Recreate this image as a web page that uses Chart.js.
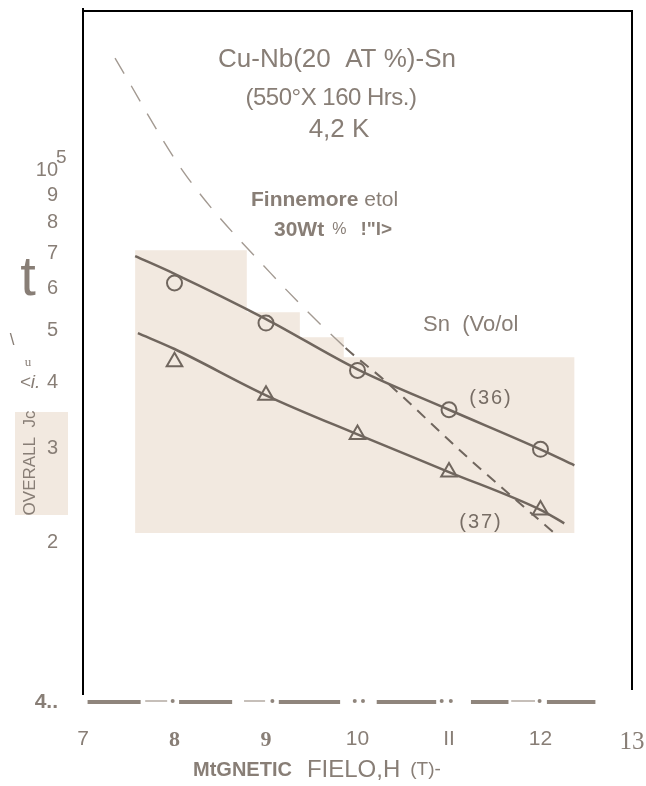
<!DOCTYPE html>
<html>
<head>
<meta charset="utf-8">
<script src="https://cdn.jsdelivr.net/npm/chart.js@4.4.1/dist/chart.umd.min.js"></script>
<style>
  body { margin: 0; background: #fff; }
  canvas { display: block; }
</style>
</head>
<body>
<canvas id="myChart" width="646" height="786"></canvas>
<script>
// field H (T) of the measured points
const fieldT = [8, 9, 10, 11, 12];
// overall Jc (A/cm2)
const jc36 = [61500, 51700, 42100, 35500, 29900];
const jc37 = [43700, 37800, 31900, 27100, 23000];

// hand drawn curves through the points
const curve36X = [7.57, 8, 9, 10, 11, 12, 12.37];
const curve36Y = [69100, 64000, 52600, 42300, 35500, 29900, 27900];
const curve37X = [7.6, 8, 9, 10, 11, 12, 12.26];
const curve37Y = [49500, 46200, 37800, 31900, 27100, 23000, 21700];

// Finnemore et al, 30 wt % Sn (dashed)
const finnX = [7.35, 8.1, 9.05, 9.87, 10.29, 11.24, 12.15];
const finnY = [163000, 99500, 64200, 46400, 40400, 28500, 20800];

// tick labels as printed (scan text)
const xTicks = [7, 8, 9, 10, 11, 12, 13];
const xLabels = ['7', '8', '9', '10', 'II', '12', '13'];
const yTicks = [100000, 90000, 80000, 70000, 60000, 50000, 40000, 30000, 20000, 10000];
const yLabels = ['10', '9', '8', '7', '6', '5', '4', '3', '2', '4..'];

const GREY = '#887e76';
const LINE = '#70665e';
const PAPER = '#f2e9e0';
const SANS = '"Liberation Sans", Arial, sans-serif';
const SERIF = '"Liberation Serif", serif';

const pts = (xs, ys) => xs.map((x, i) => ({ x: x, y: ys[i] }));

// draws a row of text pieces with different fonts
let runs = (ctx, x, y, parts, align) => {
  let w = 0;
  parts.forEach(p => {
    ctx.font = p.f; ctx.letterSpacing = p.ls || '0px';
    w += ctx.measureText(p.t).width + (p.gap || 0);
  });
  let cx = align === 'left' ? x : x - w / 2;
  parts.forEach(p => {
    ctx.font = p.f;
    ctx.letterSpacing = p.ls || '0px';
    ctx.fillStyle = p.c || GREY;
    ctx.textAlign = 'left';
    ctx.textBaseline = 'middle';
    ctx.fillText(p.t, cx, y);
    cx += ctx.measureText(p.t).width + (p.gap || 0);
  });
  ctx.letterSpacing = '0px';
};

const paperPlugin = {
  id: 'paper',
  beforeDraw(chart) {
    const { ctx, scales: { x, y } } = chart;
    // scanned patch behind the curves (stepped top edge)
    const poly = [[7.57, 70900], [8.79, 70900], [8.79, 54200], [9.37, 54200], [9.37, 48600],
      [9.85, 48600], [9.85, 44600], [12.37, 44600], [12.37, 20800], [7.57, 20800]];
    ctx.save();
    ctx.fillStyle = PAPER;
    ctx.beginPath();
    poly.forEach((p, i) => {
      const px = x.getPixelForValue(p[0]), py = y.getPixelForValue(p[1]);
      i ? ctx.lineTo(px, py) : ctx.moveTo(px, py);
    });
    ctx.closePath();
    ctx.fill();
    // patch behind the axis title
    ctx.fillRect(15, 412, 53, 103);
    ctx.restore();
  },
  afterDraw(chart) {
    const { ctx, chartArea: a, scales: { x, y } } = chart;
    ctx.save();
    // frame: left, top, right
    ctx.strokeStyle = '#000';
    ctx.lineWidth = 2;
    ctx.beginPath();
    ctx.moveTo(a.left, a.bottom - 7);
    ctx.lineTo(a.left, a.top - 3);
    ctx.moveTo(a.left - 1, a.top);
    ctx.lineTo(a.right, a.top);
    ctx.lineTo(a.right, a.bottom - 12);
    ctx.stroke();

    // broken base line of the scan
    const yb = a.bottom;
    const bars = [[7.05, 7.63], [8.05, 8.63], [9.14, 9.81], [10.21, 10.86], [11.24, 11.65], [12.07, 12.6]];
    const thin = [[7.68, 7.92], [8.76, 8.99], [11.68, 11.94]];
    const dots = [7.98, 9.07, 9.97, 10.06, 10.92, 11.02, 11.99];
    ctx.strokeStyle = '#8f857c';
    ctx.lineWidth = 4;
    bars.forEach(b => { ctx.beginPath(); ctx.moveTo(x.getPixelForValue(b[0]), yb); ctx.lineTo(x.getPixelForValue(b[1]), yb); ctx.stroke(); });
    ctx.strokeStyle = '#b3aaa2';
    ctx.lineWidth = 1.5;
    thin.forEach(b => { ctx.beginPath(); ctx.moveTo(x.getPixelForValue(b[0]), yb - 1); ctx.lineTo(x.getPixelForValue(b[1]), yb - 1); ctx.stroke(); });
    ctx.fillStyle = '#8f857c';
    dots.forEach(d => { ctx.beginPath(); ctx.arc(x.getPixelForValue(d), yb - 1, 2, 0, Math.PI * 2); ctx.fill(); });

    // exponent of the 10^5 label
    runs(ctx, 56, y.getPixelForValue(100000) - 13, [{ t: '5', f: '19px ' + SANS }], 'left');

    // y title, rotated
    ctx.save();
    ctx.translate(30, 463);
    ctx.rotate(-Math.PI / 2);
    runs(ctx, 0, 0, [{ t: 'OVERALL  Jc', f: '17px ' + SANS }]);
    ctx.restore();

    runs(ctx, 337, 60, [{ t: 'Cu-Nb(20  AT %)-Sn', f: '26px ' + SANS }]);
    runs(ctx, 331, 98, [{ t: '(550\u00b0X 160 Hrs.)', f: '24px ' + SANS, ls: '-0.5px' }]);
    runs(ctx, 339, 130, [{ t: '4,2 K', f: '26px ' + SANS }]);
    runs(ctx, 251, 200, [{ t: 'Finnemore', f: 'bold 21px ' + SANS, gap: 6 }, { t: 'etol', f: '21px ' + SANS }], 'left');
    runs(ctx, 274, 230, [{ t: '30Wt', f: 'bold 21px ' + SANS, gap: 8 }, { t: '%', f: '16px ' + SANS, gap: 14 },
      { t: '!"l>', f: 'bold 19px ' + SANS }], 'left');
    runs(ctx, 423, 325, [{ t: 'Sn  (Vo/ol', f: '22px ' + SANS }], 'left');
    runs(ctx, 491, 398, [{ t: '(36)', f: '20px ' + SANS, c: '#776d65', ls: '2px' }]);
    runs(ctx, 481, 522, [{ t: '(37)', f: '20px ' + SANS, c: '#776d65', ls: '2px' }]);

    // stray marks left of the axis
    runs(ctx, 28, 280, [{ t: 't', f: '56px ' + SANS }]);
    runs(ctx, 12, 340, [{ t: '\\', f: '17px ' + SANS }]);
    runs(ctx, 28, 363, [{ t: 'u', f: '13px ' + SERIF }]);
    runs(ctx, 30, 383, [{ t: '<i.', f: 'italic 19px ' + SANS }]);

    // x title
    runs(ctx, 193, 770, [{ t: 'MtGNETIC', f: 'bold 20px ' + SANS, gap: 15 }, { t: 'FIELO,H', f: '24px ' + SANS, gap: 10 },
      { t: '(T)-', f: '19px ' + SANS }], 'left');
    ctx.restore();
  }
};

const ctx = document.getElementById('myChart');

const config = {
  type: 'scatter',
  data: {
    datasets: [
      {
        type: 'line', label: 'curve 36', data: pts(curve36X, curve36Y),
        borderColor: LINE, borderWidth: 2.5, pointRadius: 0, cubicInterpolationMode: 'monotone', fill: false
      },
      {
        type: 'line', label: 'curve 37', data: pts(curve37X, curve37Y),
        borderColor: LINE, borderWidth: 2.5, pointRadius: 0, cubicInterpolationMode: 'monotone', fill: false
      },
      {
        type: 'line', label: 'Finnemore', data: pts(finnX, finnY),
        borderColor: LINE, borderWidth: 2, borderDash: [11, 8], pointRadius: 0,
        cubicInterpolationMode: 'monotone', fill: false,
        segment: {
          // upper part on white paper is faint and broken
          borderColor: c => c.p0.parsed.x < 9.8 ? '#a39a92' : LINE,
          borderWidth: c => c.p0.parsed.x < 9.8 ? 1.4 : 2,
          borderDash: c => c.p0.parsed.x < 9.8 ? [18, 14] : [11, 8]
        }
      },
      {
        label: '(36)', data: pts(fieldT, jc36),
        pointStyle: 'circle', pointRadius: 7.5, borderWidth: 2, borderColor: LINE, backgroundColor: PAPER
      },
      {
        label: '(37)', data: pts(fieldT, jc37),
        pointStyle: 'triangle', pointRadius: 9, borderWidth: 2, borderColor: LINE, backgroundColor: PAPER
      }
    ]
  },
  options: {
    responsive: false,
    animation: false,
    layout: { padding: { top: 11, right: 14, left: 0, bottom: 0 } },
    plugins: { legend: { display: false }, tooltip: { enabled: false } },
    scales: {
      x: {
        type: 'linear', min: 7, max: 13,
        afterBuildTicks: s => { s.ticks = xTicks.map(v => ({ value: v })); },
        afterFit: s => { s.height = 84; s.paddingLeft = 0; s.paddingRight = 0; },
        grid: { display: false, drawTicks: false },
        border: { display: false },
        ticks: {
          padding: 25, color: GREY, autoSkip: false, maxRotation: 0,
          callback: v => xLabels[xTicks.indexOf(v)],
          font: c => {
            const v = c.tick && c.tick.value;
            if (v === 8 || v === 9) return { family: 'Liberation Serif', size: 22, weight: 'bold' };
            if (v === 13) return { family: 'Liberation Serif', size: 25 };
            return { family: 'Liberation Sans', size: 21 };
          }
        }
      },
      y: {
        type: 'logarithmic', min: 10000, max: 200000,
        afterBuildTicks: s => { s.ticks = yTicks.map(v => ({ value: v })); },
        afterFit: s => { s.width = 83; s.paddingTop = 0; s.paddingBottom = 0; },
        grid: { display: false, drawTicks: false },
        border: { display: false },
        ticks: {
          padding: 25, color: GREY, autoSkip: false,
          callback: v => yLabels[yTicks.indexOf(v)],
          font: c => {
            const v = c.tick && c.tick.value;
            if (v === 10000) return { family: 'Liberation Sans', size: 21, weight: 'bold' };
            return { family: 'Liberation Sans', size: 20 };
          }
        }
      }
    }
  },
  plugins: [paperPlugin]
};

const chart = new Chart(ctx, config);
</script>
</body>
</html>
